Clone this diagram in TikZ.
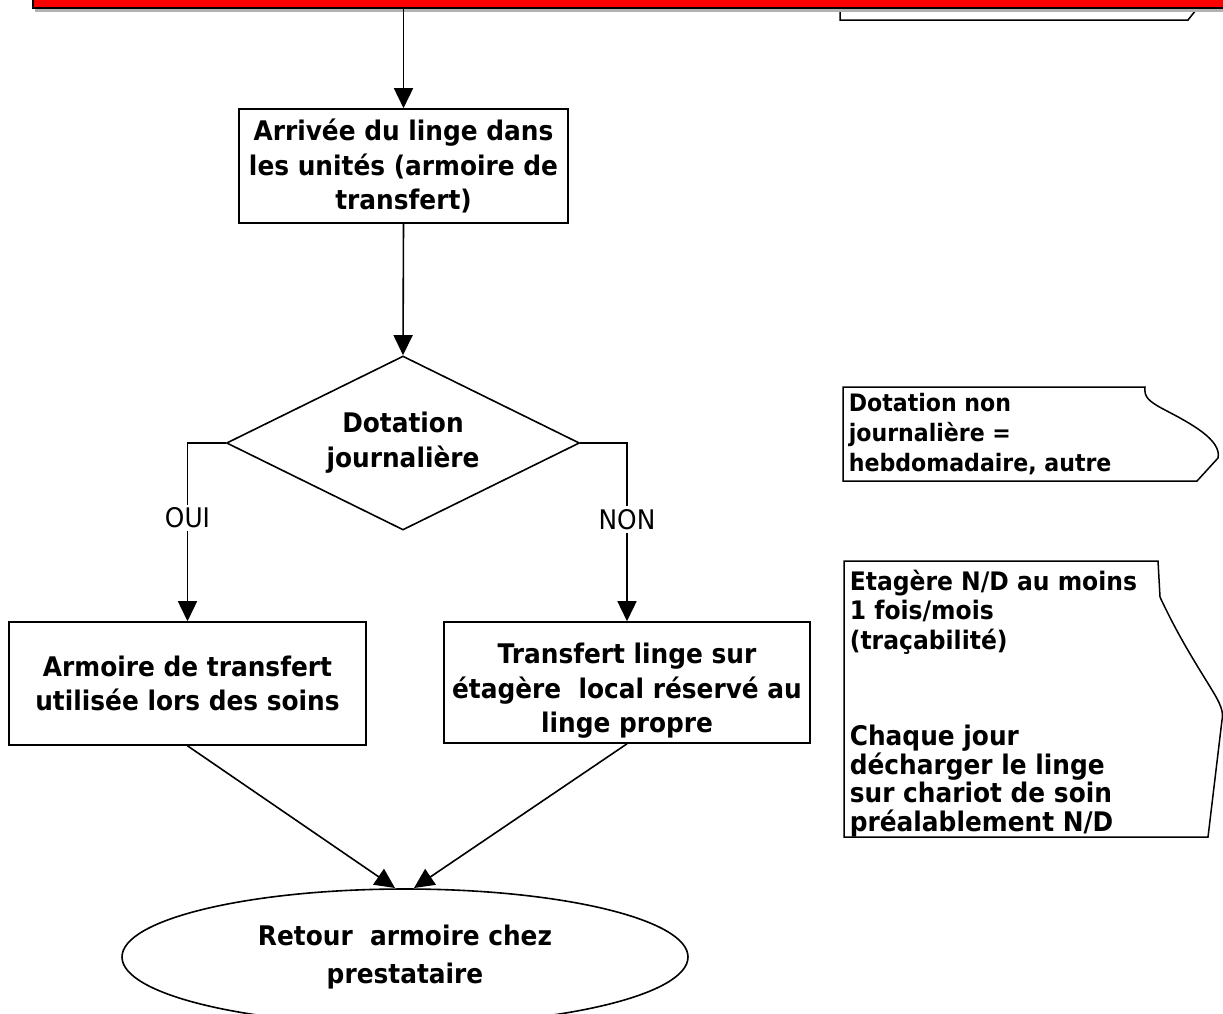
\documentclass[tikz,border=0pt]{standalone}
\usepackage{fontspec}
\setmainfont{DejaVu Sans}[FakeStretch=0.92]
\usetikzlibrary{shapes.geometric,arrows.meta}
\begin{document}
\begin{tikzpicture}[x=1pt,y=-1pt,
  line width=1.6pt,
  box/.style={draw, rectangle, align=center, inner sep=0pt, font=\bfseries\fontsize{27}{34.5}\selectfont},
  arr/.style={-{Triangle[length=20pt,width=19pt]}},
  lbl/.style={fill=white, inner sep=3pt, font=\fontsize{27}{30}\selectfont},
  note/.style={draw, line width=1.5pt, fill=white},
  notetext/.style={anchor=west, align=left, inner sep=0pt}]
\useasboundingbox (0,0) rectangle (1223,1013);
% top note (partly hidden)
\draw[note] (840,-10) -- (840,20) -- (1188,20) -- (1203,1) -- (1205,-10);
% red bar
\fill[gray!60] (35,-40) rectangle (1270,11.5);
\node[draw, fill=red, line width=2pt, minimum width=1240, minimum height=50, anchor=south west, inner sep=0pt] (bar) at (32,9) {};
% boxes
\node[box, minimum width=329, minimum height=114] (b1) at (403.5,166) {Arrivée du linge dans\\les unités (armoire de\\transfert)};
\node[draw, diamond, aspect=2.03, minimum width=353, minimum height=174, inner sep=0pt, align=center, font=\bfseries\fontsize{27}{35}\selectfont] (dia) at (403,443) {Dotation\\journalière};
\node[box, minimum width=357, minimum height=123] (b2) at (187.5,683.5) {Armoire de transfert\\utilisée lors des soins};
\node[box, minimum width=366, minimum height=121] (b3) at (627,682.5) {};
\node[box, draw=none] (b3t) at (627,691) {Transfert linge sur\\étagère\ \ local réservé au\\linge propre};
\node[draw, ellipse, minimum width=566, minimum height=136, inner sep=0pt, align=center, font=\bfseries\fontsize{27}{38}\selectfont] (ell) at (405,957) {Retour\ \ armoire chez\\prestataire};
\coordinate (t1) at (395,888);
\coordinate (t2) at (414,888);
% connectors
\draw[arr] (bar.south -| b1.north) -- (b1.north);
\draw[arr] (b1.south) -- (dia.north);
\draw[arr] (dia.west) -| node[lbl, pos=0.71]{OUI} (b2.north);
\draw[arr] (dia.east) -| node[lbl, pos=0.715]{NON} (b3.north);
\draw[arr] (b2.south) -- (t1);
\draw[arr] (b3.south) -- (t2);
% note 2
\draw[note] (843,387) -- (1145,387) .. controls (1144,397) and (1148,401) .. (1165,410) .. controls (1190,423) and (1222,440) .. (1218,458) -- (1197,481) -- (843,481) -- cycle;
\node[notetext, font=\bfseries\fontsize{24}{30}\selectfont] (n2) at (848,434) {Dotation non\\journalière =\\hebdomadaire, autre};
% note 3
\draw[note] (844,561) -- (1158,561) -- (1160,597) .. controls (1180,640) and (1200,670) .. (1212,690) .. controls (1220,703) and (1224,712) .. (1222,720) -- (1208,837) -- (844,837) -- cycle;
\node[notetext, font=\bfseries\fontsize{25.5}{29.5}\selectfont] (n3a) at (849,612) {Etagère N/D au moins\\1 fois/mois\\(traçabilité)};
\node[notetext, font=\bfseries\fontsize{27}{28.5}\selectfont] (n3b) at (849,781) {Chaque jour\\décharger le linge\\sur chariot de soin\\préalablement N/D};
\end{tikzpicture}
\end{document}
